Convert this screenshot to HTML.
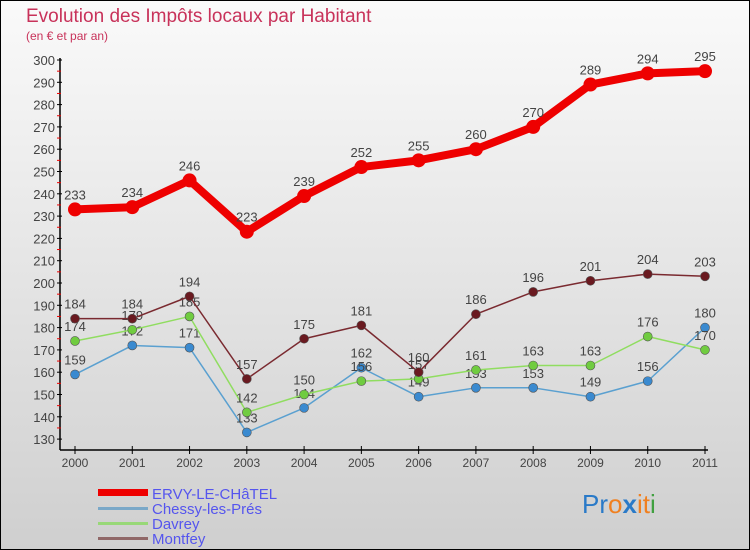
<!DOCTYPE html>
<html><head><meta charset="utf-8"><style>
body{margin:0;width:750px;height:550px;overflow:hidden}
svg{display:block;font-family:"Liberation Sans",sans-serif}
</style></head><body>
<svg id="c" width="750" height="550">
<defs><linearGradient id="bg" x1="0" y1="0" x2="0" y2="1"><stop offset="0" stop-color="#fafafa"/><stop offset="1" stop-color="#cfcfcf"/></linearGradient></defs>
<rect x="0.5" y="0.5" width="749" height="549" fill="url(#bg)" stroke="#000"/>
<text x="26" y="22" font-size="19" fill="#c8325a">Evolution des Impôts locaux par Habitant</text>
<text x="26" y="40" font-size="12" fill="#c8325a">(en € et par an)</text>
<g id="axes"></g><g id="series"></g>
<g>
<rect x="98" y="489" width="50" height="7" fill="#e00"/>
<rect x="98" y="507" width="50" height="3" fill="#7aa8c8"/>
<rect x="98" y="522" width="50" height="3" fill="#98d878"/>
<rect x="98" y="537" width="50" height="3" fill="#906868"/>
<g font-size="15" fill="#5555ee" textLength="0">
<text x="152" y="499">ERVY-LE-CHâTEL</text>
<text x="152" y="514">Chessy-les-Prés</text>
<text x="152" y="529">Davrey</text>
<text x="152" y="544">Montfey</text>
</g></g>
<text x="582" y="513" font-size="26"><tspan fill="#2a7ac8">Pr</tspan><tspan fill="#f08020">o</tspan><tspan fill="#2a7ac8" font-weight="bold">x</tspan><tspan fill="#f08020">it</tspan><tspan fill="#40a040">i</tspan></text>
</svg>
<script>
const years=["2000","2001","2002","2003","2004","2005","2006","2007","2008","2009","2010","2011"];
const ervy=[233,234,246,223,239,252,255,260,270,289,294,295];
const chessy=[159,172,171,133,144,162,149,153,153,149,156,180];
const davrey=[174,179,185,142,150,156,157,161,163,163,176,170];
const montfey=[184,184,194,157,175,181,160,186,196,201,204,203];
const yTicks=[130,140,150,160,170,180,190,200,210,220,230,240,250,260,270,280,290,300];
const NS="http://www.w3.org/2000/svg";
const X=i=>75+i*(630/11);
const Y=v=>60+(300-v)*2.23;
function mk(t,a,p){const e=document.createElementNS(NS,t);for(const k in a)e.setAttribute(k,a[k]);p.appendChild(e);return e;}
const ax=document.getElementById('axes');
const yl=mk('line',{x1:60,y1:58,x2:60,y2:450,stroke:'#000','stroke-width':1.5},ax);


const xl=mk('line',{x1:60,y1:450,x2:708,y2:450,stroke:'#000','stroke-width':1.5},ax);


yTicks.forEach(v=>{
 mk('line',{x1:57,y1:Y(v),x2:62,y2:Y(v),stroke:'#000'},ax);
 if(v<300)mk('line',{x1:57,y1:Y(v+5),x2:61,y2:Y(v+5),stroke:'#e00'},ax);
 const t=mk('text',{x:55,y:Y(v)+5,'text-anchor':'end','font-size':13,fill:'#444'},ax);t.textContent=v;
 
 
});
years.forEach((y,i)=>{
 mk('line',{x1:X(i),y1:446,x2:X(i),y2:454,stroke:'#000'},ax);
 const t=mk('text',{x:X(i),y:467,'text-anchor':'middle','font-size':12,fill:'#444'},ax);t.textContent=y;
 
 
});
const sg=document.getElementById('series');
function draw(data,name,col,fill,w,r){
 const g=mk('g',{},sg);
 
 
 const p=mk('polyline',{points:data.map((v,i)=>X(i)+','+Y(v)).join(' '),fill:'none',stroke:col,'stroke-width':w,'stroke-linejoin':'round'},g);
 
 
 data.forEach((v,i)=>{
  const c=mk('circle',{cx:X(i),cy:Y(v),r:r,fill:fill,stroke:w>3?'none':'#555','stroke-width':0.6},g);
  
  
  const t=mk('text',{x:X(i),y:Y(v)-10,'text-anchor':'middle','font-size':13,fill:'#444'},g);t.textContent=v;
  
  
 });
}
draw(chessy,'chessy','#5aa0d0','#3a8ad0',1.5,4.5);
draw(davrey,'davrey','#90dd60','#70cc40',1.5,4.5);
draw(montfey,'montfey','#7a2a30','#6a1a20',1.5,4.5);
draw(ervy,'ervy','#ee0000','#ee0000',8,7);
</script>
</body></html>
